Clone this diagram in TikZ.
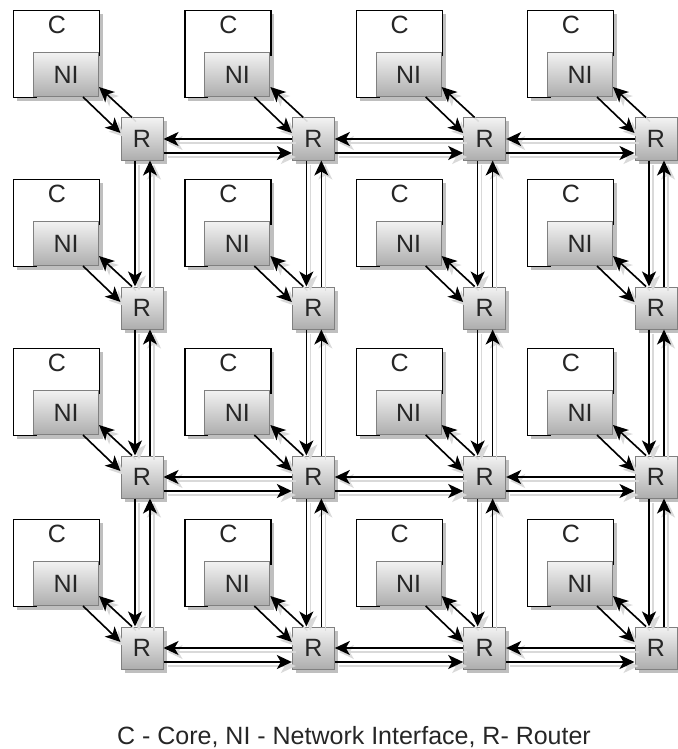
\documentclass[tikz,border=0pt]{standalone}
\usepackage{fontspec}
\setmainfont{Liberation Sans}
\usetikzlibrary{arrows.meta,shadows}
\begin{document}
\begin{tikzpicture}[x=1pt,y=-1pt,
  shad/.style={drop shadow={shadow xshift=3.5pt,shadow yshift=-3.5pt,fill=black!25,opacity=1}},
  corebox/.style={draw=black, line width=1.3pt, fill=white, minimum width=86pt, minimum height=87pt, anchor=north west, inner sep=0pt, shad},
  graybox/.style={draw=black!50, line width=1pt, top color=black!5, bottom color=black!32, inner sep=0pt, shad, font=\fontsize{25}{29}\selectfont, text=black!85},
  nibox/.style={graybox, minimum width=65pt, minimum height=44pt, anchor=south east},
  rbox/.style={graybox, minimum width=42pt, minimum height=42pt, anchor=center},
  lbl/.style={inner sep=0pt, font=\fontsize{25}{29}\selectfont, text=black!85},
  arr/.style={-{Stealth[length=15pt,width=14pt,inset=4pt]}, line width=1.6pt,
    preaction={draw=black!15, line width=1.4pt, transform canvas={shift={(4pt,-4pt)}}}}
]
\useasboundingbox (0,0) rectangle (677,749);
\foreach \i/\oy in {1/10,2/179,3/348,4/519}{
  \foreach \j/\ox in {1/13,2/184.33,3/355.67,4/527}{
    \node[corebox] (core\i\j) at (\ox,\oy) {};
    \node[lbl] (c\i\j) at (\ox+44,\oy+15) {C};
    \node[nibox] (ni\i\j) at (\ox+86,\oy+87) {NI};
    \node[rbox] (r\i\j) at (\ox+129,\oy+129) {R};
  }
}
\foreach \i in {1,...,4}{
  \foreach \j in {1,...,4}{
    \draw[arr] ([xshift=-16pt]ni\i\j.south east) -- ([yshift=6pt]r\i\j.west);
    \draw[arr] ([xshift=-10pt]r\i\j.north) -- ([yshift=10pt]ni\i\j.south east);
  }
}
\foreach \i/\k in {1/2,2/3,3/4}{
  \foreach \j in {1,...,4}{
    \draw[arr] ([xshift=-7pt]r\i\j.south) -- ([xshift=-7pt]r\k\j.north);
    \draw[arr] ([xshift=8pt]r\k\j.north) -- ([xshift=8pt]r\i\j.south);
  }
}
\foreach \i in {1,3,4}{
  \foreach \j/\k in {1/2,2/3,3/4}{
    \draw[arr] (r\i\k.west) -- (r\i\j.east);
    \draw[arr] ([yshift=-14pt]r\i\j.east) -- ([yshift=-14pt]r\i\k.west);
  }
}
\node[lbl] (caption) at (354,737) {C - Core, NI - Network Interface, R- Router};
\end{tikzpicture}
\end{document}
